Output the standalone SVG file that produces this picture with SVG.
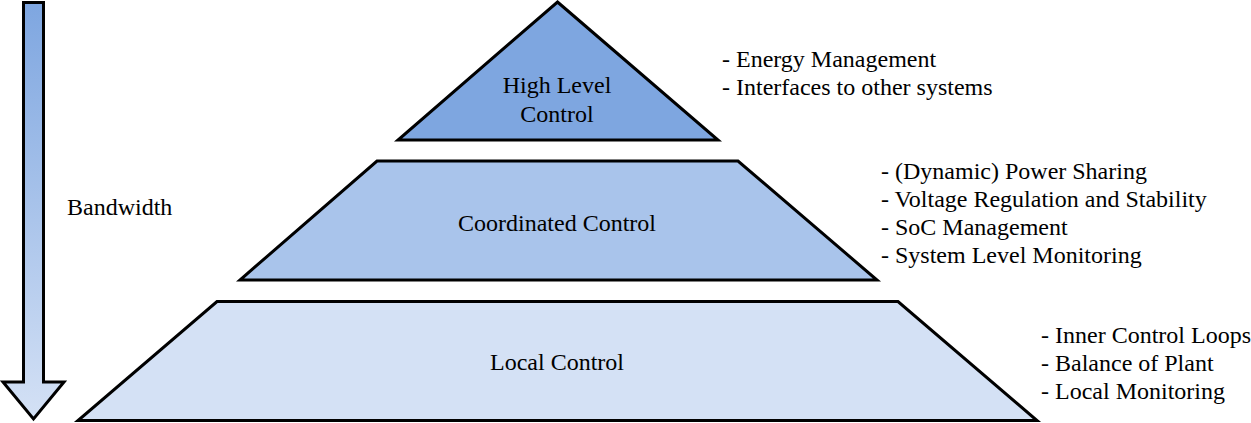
<svg xmlns="http://www.w3.org/2000/svg" width="1251" height="423" viewBox="0 0 1251 423">
<style>
text{font-family:"Liberation Serif","Times New Roman",serif;font-size:24px;fill:#000}
.c{text-anchor:middle}
.s{stroke:#000;stroke-width:3;stroke-linejoin:miter}
</style>
<defs>
<linearGradient id="g" x1="0" y1="0" x2="0" y2="1">
<stop offset="0" stop-color="#7EA6E0"/>
<stop offset="1" stop-color="#D4E1F5"/>
</linearGradient>
</defs>
<rect width="1251" height="423" fill="#fff"/>
<g id="bandwidth-arrow">
<polygon class="s" fill="url(#g)" points="23.5,2.5 43.5,2.5 43.5,382 64,382 33.5,419 3,382 23.5,382"/>
<text x="67" y="215">Bandwidth</text>
</g>
<g id="high-level">
<polygon class="s" fill="#7EA6E0" points="557.5,2 718,140 398,140"/>
<text class="c" x="557" y="93">High Level</text>
<text class="c" x="557" y="122">Control</text>
</g>
<g id="coordinated">
<polygon class="s" fill="#A9C4EB" points="377,161 738,161 877,280 240,280"/>
<text class="c" x="557" y="231">Coordinated Control</text>
</g>
<g id="local">
<polygon class="s" fill="#D4E1F5" points="217,301.5 898,301.5 1037,420.5 78,420.5"/>
<text class="c" x="557" y="370">Local Control</text>
</g>
<g id="high-desc">
<text x="722" y="67">- Energy Management</text>
<text x="722" y="95">- Interfaces to other systems</text>
</g>
<g id="coord-desc">
<text x="881" y="179">- (Dynamic) Power Sharing</text>
<text x="881" y="207">- Voltage Regulation and Stability</text>
<text x="881" y="235">- SoC Management</text>
<text x="881" y="263">- System Level Monitoring</text>
</g>
<g id="local-desc">
<text x="1041" y="343">- Inner Control Loops</text>
<text x="1041" y="371">- Balance of Plant</text>
<text x="1041" y="399">- Local Monitoring</text>
</g>
<g id="connectors"></g>
</svg>
